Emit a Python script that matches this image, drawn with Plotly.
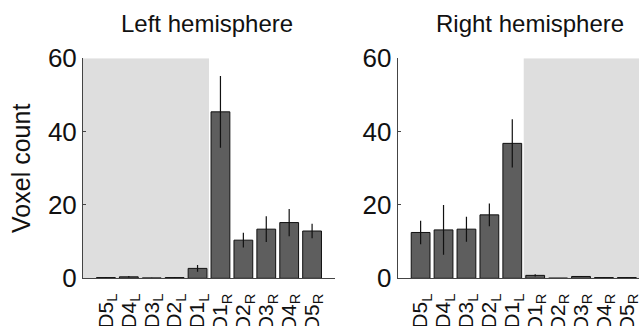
import plotly.graph_objects as go

categories_left = ["D5<sub>L</sub>", "D4<sub>L</sub>", "D3<sub>L</sub>", "D2<sub>L</sub>", "D1<sub>L</sub>",
                   "D1<sub>R</sub>", "D2<sub>R</sub>", "D3<sub>R</sub>", "D4<sub>R</sub>", "D5<sub>R</sub>"]
categories_right = categories_left

left_values = [0.2, 0.4, 0.1, 0.2, 2.7, 45.4, 10.4, 13.4, 15.2, 12.9]
left_errors = [0.1, 0.2, 0.05, 0.1, 0.9, 9.8, 2.0, 3.5, 3.7, 2.0]

right_values = [12.5, 13.2, 13.4, 17.3, 36.8, 0.8, 0.05, 0.5, 0.2, 0.2]
right_errors = [3.2, 6.8, 3.4, 3.1, 6.6, 0.3, 0.0, 0.1, 0.05, 0.05]

titles = ["Left hemisphere", "Right hemisphere"]
y_ticks = [0, 20, 40, 60]

FONT = "Liberation Sans, Arial, sans-serif"
W, H = 639, 326

def px_x(p):
    return p / W

def px_y(p):
    return (H - p) / H

fig = go.Figure()

bar_style = dict(marker=dict(color="#5e5e5e", line=dict(color="#111111", width=1)), width=0.82)
err_style = dict(type="data", thickness=1.2, width=0, color="#111111")

xs = list(range(10))
fig.add_trace(go.Bar(x=xs, y=left_values, error_y=dict(array=left_errors, **err_style),
                     xaxis="x", yaxis="y", showlegend=False, **bar_style))
fig.add_trace(go.Bar(x=xs, y=right_values, error_y=dict(array=right_errors, **err_style),
                     xaxis="x2", yaxis="y2", showlegend=False, **bar_style))

ydom = [px_y(278.3), px_y(58.3)]
line_common = dict(showgrid=False, zeroline=False, showline=True, linecolor="#444444", linewidth=1)
xtickfont = dict(family=FONT, size=21, color="#111111")
ytickfont = dict(family=FONT, size=26, color="#111111")

fig.update_layout(
    width=W, height=H,
    margin=dict(l=0, r=0, t=0, b=0),
    paper_bgcolor="white", plot_bgcolor="rgba(0,0,0,0)",
    xaxis=dict(domain=[px_x(83), px_x(335)], range=[-1, 10], tickmode="array", tickvals=xs,
               ticktext=categories_left, tickangle=-90, ticks="", anchor="y", automargin=False,
               ticklabeloverflow="allow", ticklabelstandoff=6, tickfont=xtickfont, **line_common),
    yaxis=dict(domain=ydom, range=[0, 60], tickvals=y_ticks, ticks="inside", ticklen=3,
               tickcolor="#444444", anchor="x", automargin=False, tickfont=ytickfont,
               title=dict(text="Voxel count", font=dict(family=FONT, size=25, color="#111111"), standoff=10),
               **line_common),
    xaxis2=dict(domain=[px_x(397.7), 1.0], range=[-1, 9.53], tickmode="array", tickvals=xs,
                ticktext=categories_right, tickangle=-90, ticks="", anchor="y2", automargin=False,
                ticklabeloverflow="allow", ticklabelstandoff=6, tickfont=xtickfont, **line_common),
    yaxis2=dict(domain=ydom, range=[0, 60], tickvals=y_ticks, ticks="inside", ticklen=3,
                tickcolor="#444444", anchor="x2", automargin=False, tickfont=ytickfont, **line_common),
    shapes=[
        dict(type="rect", xref="x", yref="y", x0=-1, x1=4.5, y0=0, y1=60,
             fillcolor="#dedede", line=dict(width=0), layer="below"),
        dict(type="rect", xref="x2", yref="y2", x0=4.5, x1=9.53, y0=0, y1=60,
             fillcolor="#dedede", line=dict(width=0), layer="below"),
    ],
    annotations=[
        dict(text=titles[0], x=px_x(207), y=px_y(23), xref="paper", yref="paper", showarrow=False,
             font=dict(family=FONT, size=24, color="#111111"), xanchor="center", yanchor="middle"),
        dict(text=titles[1], x=px_x(530), y=px_y(23), xref="paper", yref="paper", showarrow=False,
             font=dict(family=FONT, size=24, color="#111111"), xanchor="center", yanchor="middle"),
    ],
)

fig.write_html("out.html")
